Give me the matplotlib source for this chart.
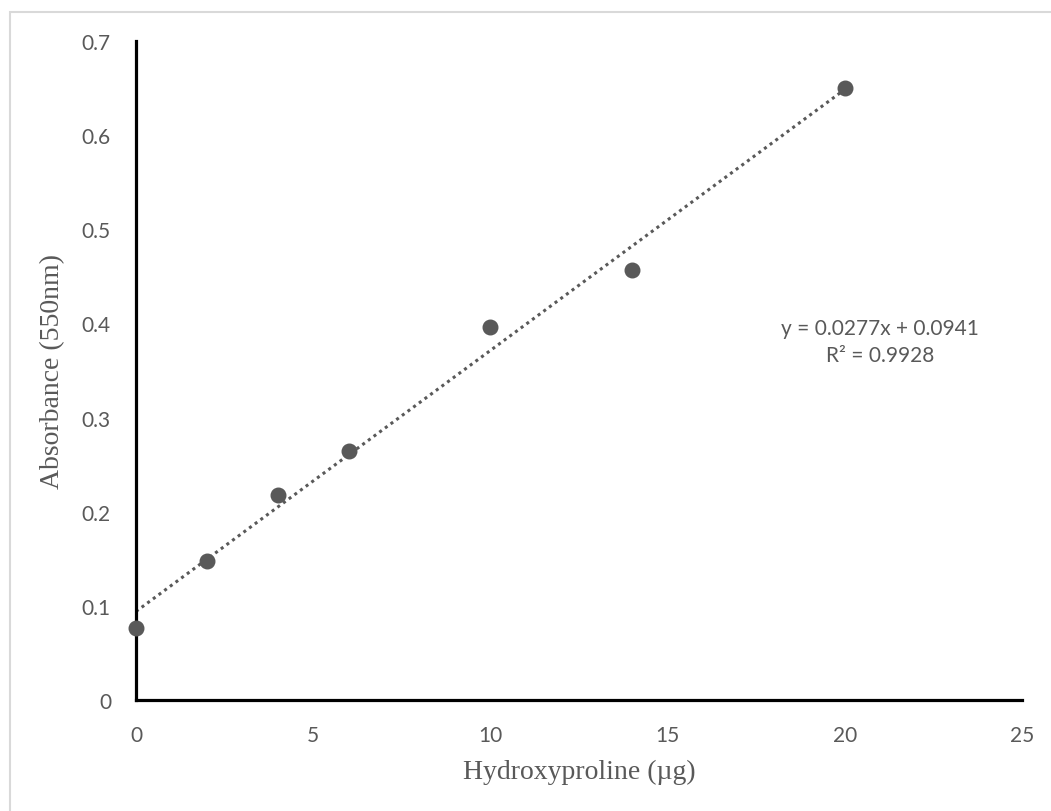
import matplotlib.pyplot as plt
import numpy as np
from matplotlib.patches import Rectangle

# Standard curve data
hyp_ug = [0, 2, 4, 6, 10, 14, 20]
absorbance = [0.077, 0.148, 0.218, 0.265, 0.396, 0.457, 0.650]

x_ticks = [0, 5, 10, 15, 20, 25]
y_ticks = [0, 0.1, 0.2, 0.3, 0.4, 0.5, 0.6, 0.7]

GREY = "#595959"
TICK_FONT = "Lato"
LABEL_FONT = "Liberation Serif"


def main():
    fig = plt.figure(figsize=(10.51, 8.12), dpi=100)
    ax = fig.add_axes([136 / 1051, 1 - 701 / 812, (1022 - 136) / 1051, (701 - 42) / 812])

    # light chart-area border (clipped by the canvas on right/bottom)
    fig.patches.append(Rectangle((9.5 / 1051, -0.05), 1.1, 1 - 12.5 / 812 + 0.05,
                                 transform=fig.transFigure, fill=False,
                                 edgecolor="#d9d9d9", linewidth=1.5))

    ax.scatter(hyp_ug, absorbance, s=110, color=GREY, zorder=3, clip_on=False)

    # linear trendline over the data range
    slope, intercept = np.polyfit(hyp_ug, absorbance, 1)
    xs = np.array([min(hyp_ug), max(hyp_ug)])
    ax.plot(xs, slope * xs + intercept, linestyle=(0, (1, 1.3)), color=GREY,
            linewidth=2.2, zorder=2)

    ax.text(880 / 1051, 1 - 329 / 812, "y = 0.0277x + 0.0941", transform=fig.transFigure,
            ha="center", va="center", color=GREY, fontsize=15, family=TICK_FONT)
    ax.text(880 / 1051, 1 - 356 / 812, "R² = 0.9928", transform=fig.transFigure,
            ha="center", va="center", color=GREY, fontsize=15, family=TICK_FONT)

    ax.set_xlim(0, 25)
    ax.set_ylim(0, 0.7)
    ax.set_xticks(x_ticks)
    ax.set_yticks(y_ticks)
    ax.set_xticklabels([str(v) for v in x_ticks])
    ax.set_yticklabels(["0"] + ["{:.1f}".format(v) for v in y_ticks[1:]])
    ax.tick_params(length=0, colors=GREY, labelsize=15)
    ax.tick_params(axis="y", pad=18)
    ax.tick_params(axis="x", pad=18)
    for lab in ax.get_xticklabels() + ax.get_yticklabels():
        lab.set_family(TICK_FONT)

    for side in ["top", "right"]:
        ax.spines[side].set_visible(False)
    for side in ["left", "bottom"]:
        ax.spines[side].set_linewidth(2.3)
        ax.spines[side].set_color("black")

    ax.set_xlabel("Hydroxyproline (µg)", family=LABEL_FONT, fontsize=20, color=GREY, labelpad=10)
    ax.set_ylabel("Absorbance (550nm)", family=LABEL_FONT, fontsize=20, color=GREY, labelpad=12)

    fig.savefig("out.png", dpi=100)


if __name__ == "__main__":
    main()
